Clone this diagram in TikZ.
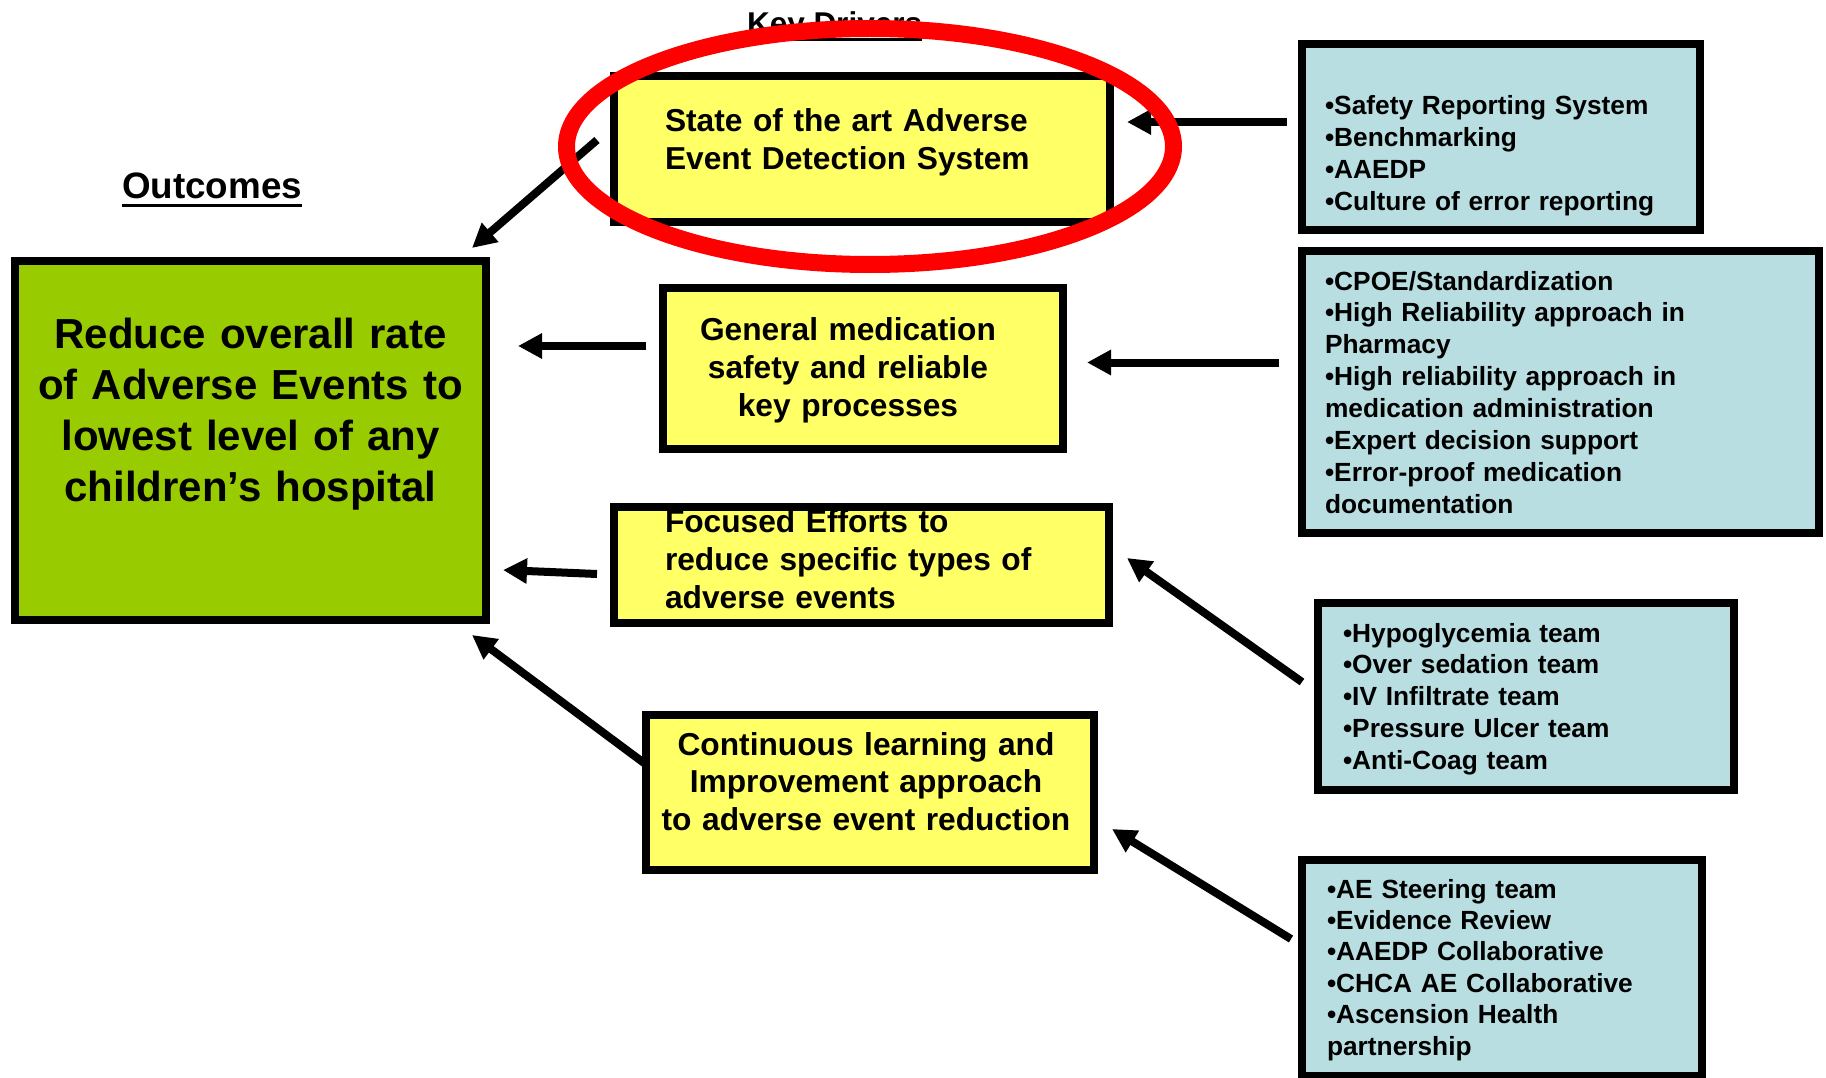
\documentclass[tikz,border=0pt]{standalone}
\usepackage{fontspec}
\setmainfont{Liberation Sans}
\usetikzlibrary{arrows.meta}

\definecolor{drvyellow}{RGB}{255,255,102}
\definecolor{outgreen}{RGB}{153,204,0}
\definecolor{ideablue}{RGB}{184,222,225}

\begin{document}
\begin{tikzpicture}[x=1pt,y=-1pt,
  panel/.style={draw=black, line width=8pt, inner sep=0pt, outer sep=0pt},
  driverbox/.style={panel, fill=drvyellow},
  outcomebox/.style={panel, fill=outgreen},
  ideabox/.style={panel, fill=ideablue},
  txt/.style={inner sep=0pt, outer sep=0pt, text width=#1},
  drivertxt/.style={txt=480pt, font=\bfseries\fontsize{31.7}{38}\selectfont},
  ideatxt/.style={txt=520pt, align=left, anchor=base west, font=\bfseries\fontsize{26.3}{31.9}\selectfont},
  heading/.style={inner sep=0pt, outer sep=0pt, anchor=base west},
  ul/.style={line width=3pt},
  push/.style={line width=8pt, -{Triangle[length=24pt,width=24pt]}},
  ring/.style={draw=red, line width=17pt}
]
\useasboundingbox[fill=white] (0,0) rectangle (1826,1078);

% ---------- headings ----------
\node[heading, font=\bfseries\fontsize{36.8}{40}\selectfont] (outh) at (122,199) {Outcomes};
\draw[ul] ([yshift=-7pt]outh.base west) -- ([yshift=-7pt]outh.base east);
\node[heading, font=\bfseries\fontsize{31.5}{36}\selectfont] (kdh) at (747,35) {Key Drivers};
\draw[ul] ([yshift=-5pt]kdh.base west) -- ([yshift=-5pt]kdh.base east);

% ---------- outcome ----------
\node[outcomebox, minimum width=471pt, minimum height=359pt] (goal) at (250.5,440.5) {};
\node[txt=470pt, align=center, anchor=base, font=\bfseries\fontsize{42}{51.3}\selectfont] (goalt) at (250.5,348)
  {Reduce overall rate\\of Adverse Events to\\lowest level of any\\children’s hospital};

% ---------- key drivers ----------
\node[driverbox, minimum width=496pt, minimum height=146pt] (drv1) at (862,149) {};
\node[drivertxt, align=left, anchor=base west] (drv1t) at (665,132)
  {State of the art Adverse\\Event Detection System};

\node[driverbox, minimum width=400pt, minimum height=161pt] (drv2) at (863,368.5) {};
\node[drivertxt, txt=400pt, align=center, anchor=base] (drv2t) at (848,340)
  {General medication\\safety and reliable\\key processes};

\node[driverbox, minimum width=495pt, minimum height=116pt] (drv3) at (861.5,565) {};
\node[drivertxt, align=left, anchor=base west] (drv3t) at (665,532)
  {Focused Efforts to\\reduce specific types of\\adverse events};
% the frame sits on top of the first text line
\draw[line width=8pt] (drv3.north west) rectangle (drv3.south east);

\node[driverbox, minimum width=448pt, minimum height=155pt] (drv4) at (870,792.5) {};
\node[drivertxt, txt=448pt, align=center, anchor=base, font=\bfseries\fontsize{31.7}{37.5}\selectfont] (drv4t) at (866,755)
  {Continuous learning and\\Improvement approach\\to adverse event reduction};

% ---------- change ideas ----------
\node[ideabox, minimum width=398pt, minimum height=186pt] (idA) at (1501,137) {};
\node[ideatxt] (idAt) at (1325,115)
  {•Safety Reporting System\\•Benchmarking\\•AAEDP\\•Culture of error reporting};

\node[ideabox, minimum width=517pt, minimum height=282pt] (idB) at (1560.5,392) {};
\node[ideatxt] (idBt) at (1325,290)
  {•CPOE/Standardization\\•High Reliability approach in\\Pharmacy\\•High reliability approach in\\medication administration\\•Expert decision support\\•Error-proof medication\\documentation};

\node[ideabox, minimum width=416pt, minimum height=187pt] (idC) at (1526,696.5) {};
\node[ideatxt] (idCt) at (1343,642)
  {•Hypoglycemia team\\•Over sedation team\\•IV Infiltrate team\\•Pressure Ulcer team\\•Anti-Coag team};

\node[ideabox, minimum width=400pt, minimum height=216pt] (idD) at (1502,968) {};
\node[ideatxt, font=\bfseries\fontsize{26.3}{31.4}\selectfont] (idDt) at (1327,898)
  {•AE Steering team\\•Evidence Review\\•AAEDP Collaborative\\•CHCA AE Collaborative\\•Ascension Health\\partnership};

% ---------- connector ends ----------
\coordinate (pA1) at (1287,122);  \coordinate (q1A) at (1127,122);
\coordinate (p1G) at (597,140);   \coordinate (qG1) at (472,248);
\coordinate (pB2) at (1279,362.5);  \coordinate (q2B) at (1087,362.5);
\coordinate (p2G) at (646,346);   \coordinate (qG2) at (518,346);
\coordinate (pC3) at (1302,682);  \coordinate (q3C) at (1127,558);
\coordinate (p3G) at (597,574);   \coordinate (qG3) at (503,570);
\coordinate (p4G) at (644,763);   \coordinate (qG4) at (472,635);
\coordinate (pD4) at (1291,939);  \coordinate (q4D) at (1112,829);

\draw[push] (pA1) -- (q1A);
\draw[push] (p1G) -- (qG1);
\draw[push] (pB2) -- (q2B);
\draw[push] (p2G) -- (qG2);
\draw[push] (pC3) -- (q3C);
\draw[push] (p3G) -- (qG3);
\draw[push] (p4G) -- (qG4);
\draw[push] (pD4) -- (q4D);

% ---------- highlight ring ----------
\draw[ring] (870,146.5) ellipse [x radius=303.5pt, y radius=118pt];
\end{tikzpicture}
\end{document}
